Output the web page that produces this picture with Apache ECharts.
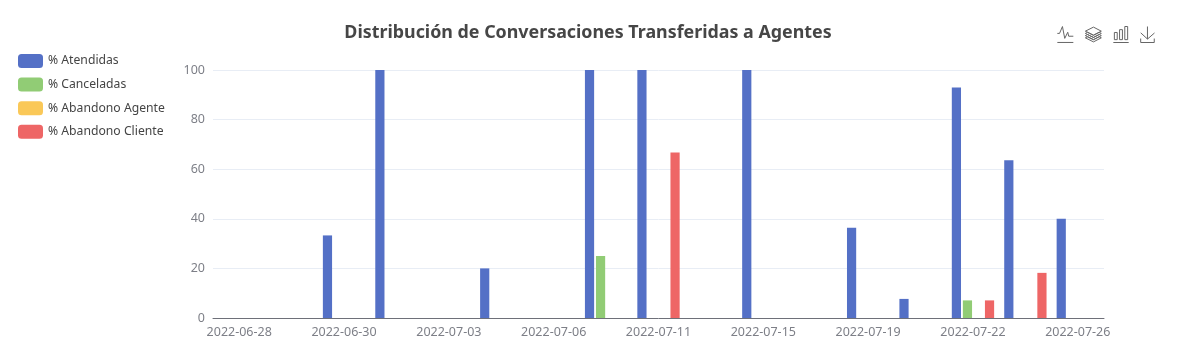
<!DOCTYPE html>
<html>
<head>
<meta charset="utf-8">
<style>
  html, body { margin: 0; padding: 0; background: #fff; }
  #chart { width: 1191px; height: 362px; }
</style>
<script src="https://cdn.jsdelivr.net/npm/echarts@6/dist/echarts.min.js"></script>
</head>
<body>
<div id="chart"></div>
<script>
// fechas del eje, las que no tienen etiqueta visible son estimadas
const categories = [
  "2022-06-28", "2022-06-29", "2022-06-30", "2022-07-01", "2022-07-03", "2022-07-05",
  "2022-07-06", "2022-07-08", "2022-07-11", "2022-07-13", "2022-07-15", "2022-07-18",
  "2022-07-19", "2022-07-21", "2022-07-22", "2022-07-25", "2022-07-26",
];
const atendidas = [0, 0, 33.3, 100, 0, 20, 0, 100, 100, 0, 100, 0, 36.4, 7.7, 92.9, 63.6, 40];
const canceladas = [0, 0, 0, 0, 0, 0, 0, 25, 0, 0, 0, 0, 0, 0, 7.1, 0, 0];
const abandonoAgente = [0, 0, 0, 0, 0, 0, 0, 0, 0, 0, 0, 0, 0, 0, 0, 0, 0];
const abandonoCliente = [0, 0, 0, 0, 0, 0, 0, 0, 66.7, 0, 0, 0, 0, 0, 7.1, 18.2, 0];

const fontFamily = '"Noto Sans", sans-serif';
const barStyle = { type: "bar", barWidth: 9.2, barGap: "20%" };

const myChart = echarts.init(document.getElementById("chart"));
myChart.setOption({
  animation: false,
  color: ["#5470c6", "#91cc75", "#fac858", "#ee6666"],
  textStyle: { fontFamily },
  title: {
    text: "Distribución de Conversaciones Transferidas a Agentes",
    left: 583,
    top: 19,
    textAlign: "center",
    textStyle: { fontFamily, fontSize: 17.85, fontWeight: "bold", color: "#464646" },
  },
  legend: {
    orient: "vertical",
    left: 13,
    top: 49,
    itemWidth: 25,
    itemHeight: 14,
    itemGap: 9.6,
    textStyle: { fontFamily, fontSize: 12.2, color: "#444" },
  },
  toolbox: {
    right: 19,
    top: 9,
    itemSize: 16,
    itemGap: 7,
    iconStyle: { borderColor: "#666" },
    feature: {
      magicType: { type: ["line", "stack", "bar"] },
      saveAsImage: {},
    },
  },
  grid: { left: 213, right: 87, top: 70, bottom: 44 },
  xAxis: {
    type: "category",
    data: categories,
    axisTick: { alignWithLabel: true, interval: 1, length: 5 },
    axisLine: { lineStyle: { color: "#6e7079" } },
    axisLabel: { interval: 1, color: "#7d7f87", fontSize: 12.5, margin: 8 },
  },
  yAxis: {
    type: "value",
    min: 0,
    max: 100,
    interval: 20,
    axisLabel: { color: "#7d7f87", fontSize: 12.5, margin: 8 },
    splitLine: { lineStyle: { color: "#e8edf5" } },
  },
  series: [
    { ...barStyle, name: "% Atendidas", data: atendidas },
    { ...barStyle, name: "% Canceladas", data: canceladas },
    { ...barStyle, name: "% Abandono Agente", data: abandonoAgente },
    { ...barStyle, name: "% Abandono Cliente", data: abandonoCliente },
  ],
});
</script>
</body>
</html>
